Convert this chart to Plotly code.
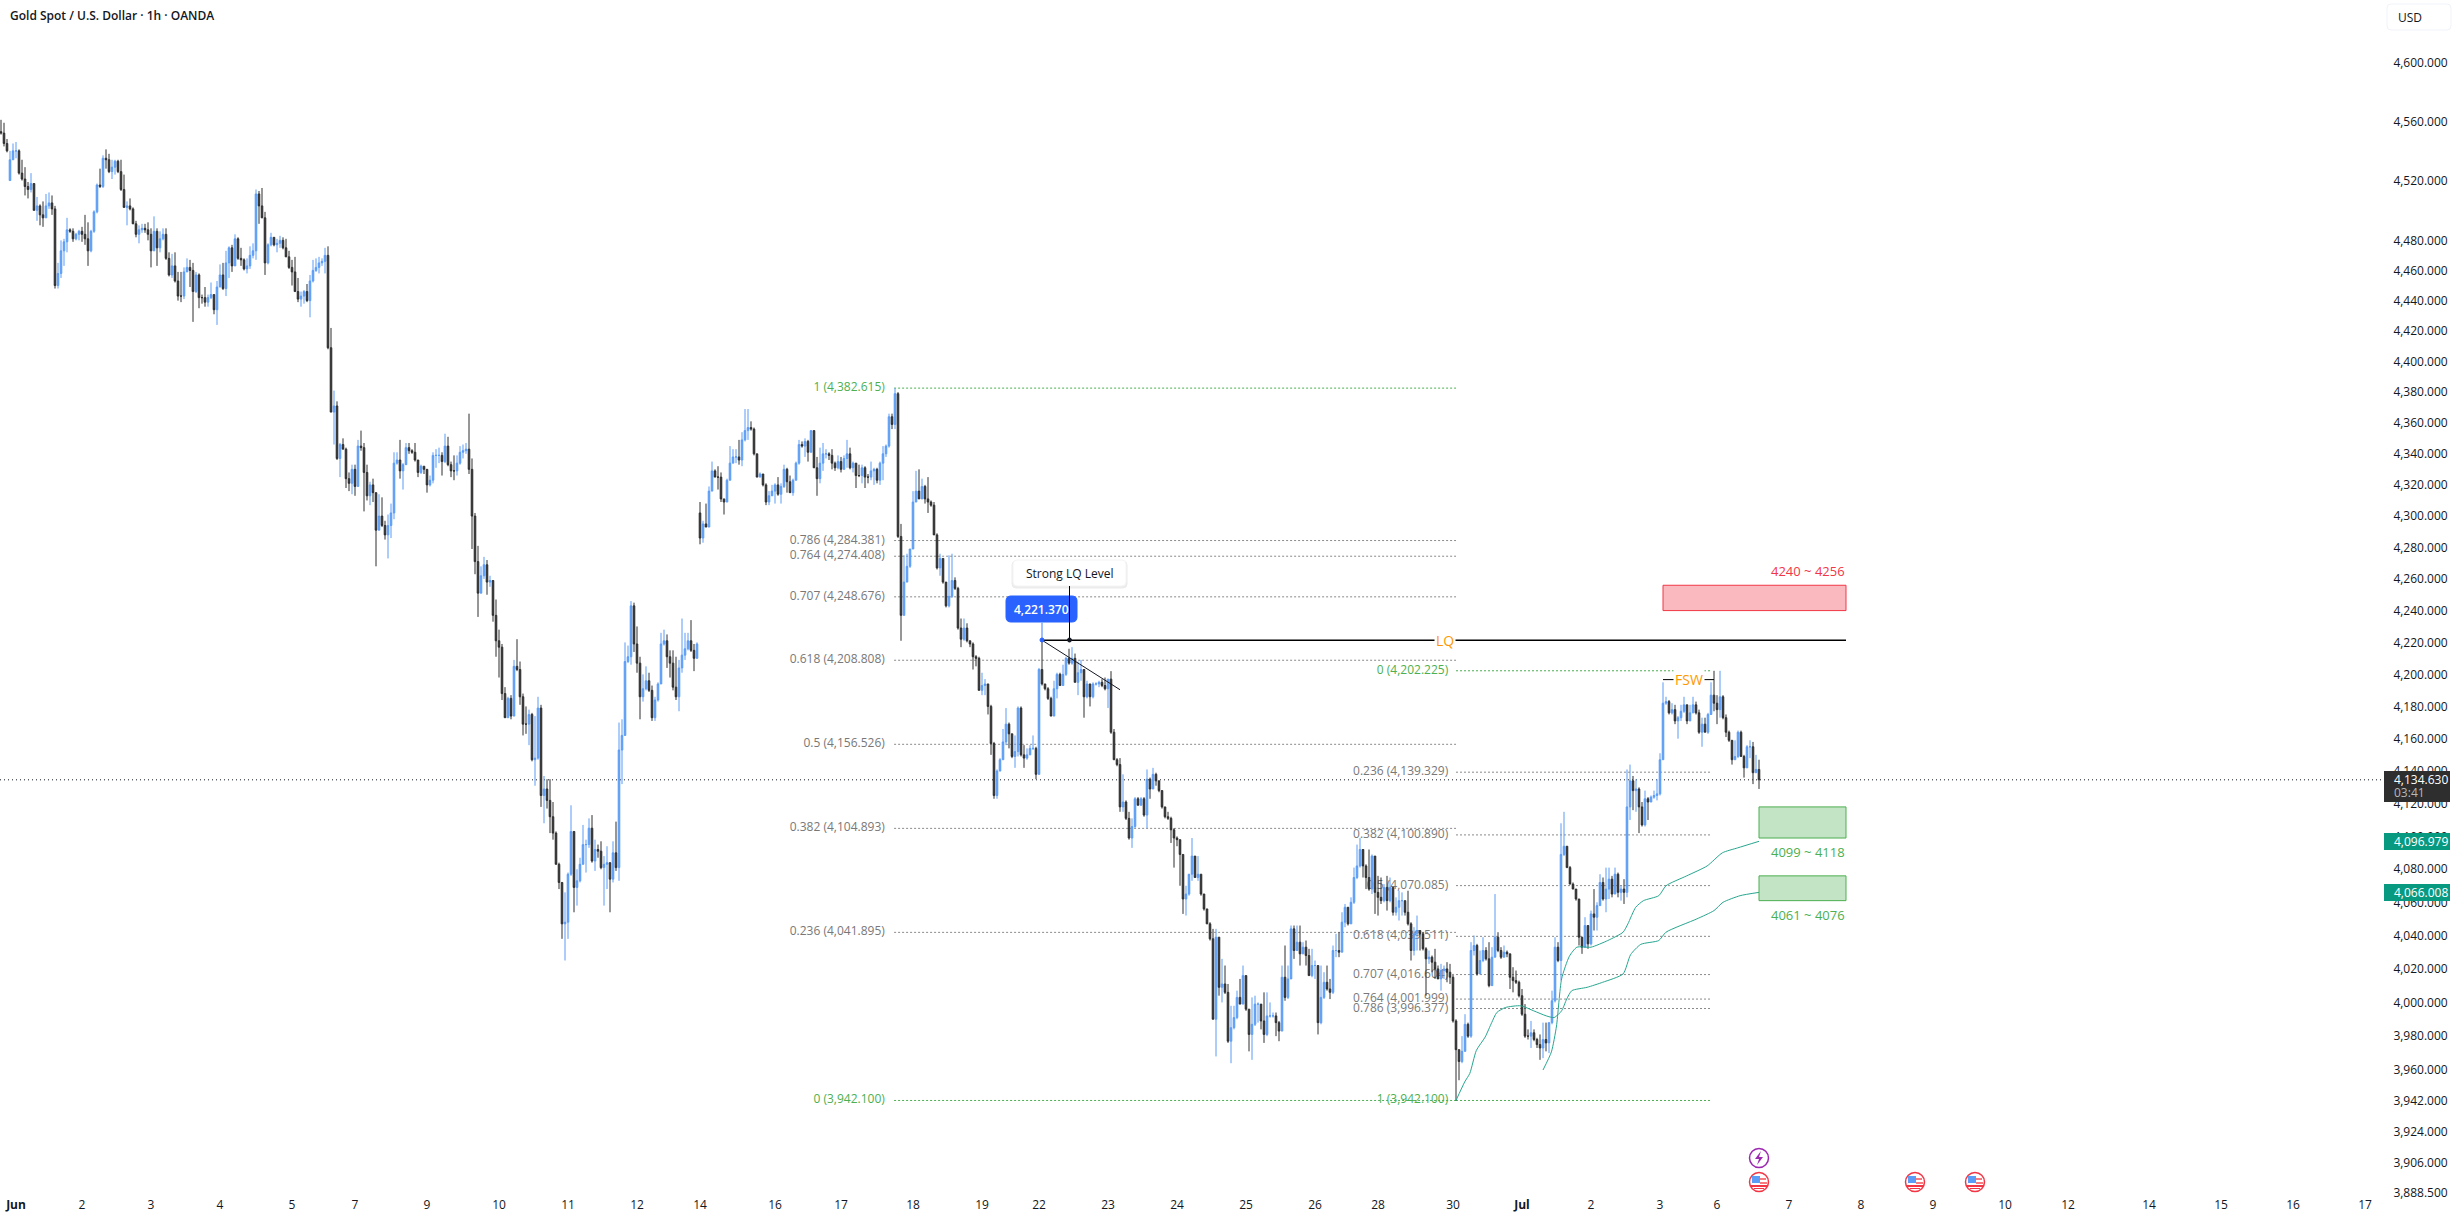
import math
import plotly.graph_objects as go

# Hourly XAU/USD session, bar by bar: close, high, low
closes = [
 4552,4545,4540,4534,4540,4540,4525,4521,4516,4514,4518,4500,4503,4497,4495,4503,4505,4501,4450,4458,
 4473,4479,4487,4486,4481,4484,4486,4484,4481,4473,4486,4499,4517,4516,4535,4534,4526,4529,4533,4526,
 4514,4502,4503,4501,4491,4484,4487,4488,4487,4484,4473,4486,4475,4481,4484,4468,4457,4463,4453,4443,
 4443,4459,4462,4460,4446,4457,4442,4442,4439,4442,4444,4434,4449,4457,4448,4465,4475,4463,4481,4468,
 4467,4461,4463,4470,4473,4511,4503,4495,4465,4477,4482,4477,4478,4480,4475,4469,4462,4459,4446,4441,
 4443,4446,4440,4453,4460,4462,4465,4466,4470,4409,4367,4371,4337,4346,4343,4324,4321,4330,4319,4345,
 4344,4328,4313,4320,4315,4291,4300,4294,4288,4294,4302,4334,4336,4329,4333,4344,4342,4341,4336,4328,
 4332,4330,4320,4323,4339,4339,4339,4335,4345,4333,4329,4329,4334,4341,4342,4343,4330,4300,4271,4251,
 4262,4269,4258,4259,4237,4221,4217,4188,4173,4185,4174,4205,4203,4186,4169,4169,4175,4147,4148,4179,
 4125,4129,4122,4112,4102,4083,4072,4047,4048,4077,4103,4069,4073,4083,4095,4095,4105,4085,4092,4091,
 4081,4083,4084,4074,4090,4081,4153,4162,4208,4211,4243,4219,4207,4186,4191,4196,4190,4173,4184,4194,
 4219,4221,4211,4207,4192,4186,4204,4212,4216,4221,4215,4210,4219,
 4286,4295,4293,4316,4329,4325,4325,4311,4309,4323,
 4334,4338,4338,4336,4349,4355,4357,4356,4340,4325,4327,4320,4309,4313,4316,4320,4314,4319,4330,4322,
 4315,4323,4334,4346,4345,4348,4341,4355,4331,4324,4334,4340,4340,4339,4334,4331,4335,4330,4337,4340,
 4331,4334,4326,4326,4331,4325,4325,4329,4330,4323,4334,4340,4345,4364,4359,4379,4287,4237,4258,4268,
 4279,4309,4316,4311,4319,4311,4309,4307,4288,4267,4273,4258,4243,4249,4259,4254,4229,4222,4229,4221,
 4219,4211,4210,4190,4193,4194,4180,4157,4125,4140,4147,4158,4169,4163,4149,4152,4179,4150,4148,4150,
 4154,4154,4138,4203,
 4194,4191,4185,4174,4191,4200,4193,4200,4210,4207,4210,4195,4201,4203,4186,4194,4186,4194,4194,4195,4193,4191,4197,4164,
 4147,4144,4118,4121,4111,4099,4106,4123,4119,4123,4113,4135,4129,4138,4134,4128,4118,4112,4111,4104,4099,4098,4089,4062,4065,4077,4088,4075,4077,4065,4056,4047,4038,
 3990,4039,4009,4011,4006,3977,3985,3991,4003,3999,4016,3996,3981,3987,3999,3999,3989,3981,3992,3992,3992,3988,3983,4015,4003,4014,4044,4031,4036,4029,4033,4028,4016,4022,4022,3988,4003,4012,4008,
 4006,4031,4031,4030,4048,4057,4047,4060,4075,4082,4092,4082,4075,4068,4088,4066,4063,4061,4069,4061,4069,4054,
 4057,4061,4061,4054,4047,4031,4041,4043,4041,4032,4026,4027,4024,4020,4014,4019,4020,4018,4015,3989,
 3972,3965,3971,3987,3980,4031,4034,4017,4025,4031,4026,4010,4027,4039,4031,4027,4030,4029,4015,4013,4012,4004,3993,3980,3980,3982,3978,3975,3973,3978,3976,3988,4001,4033,4025,4089,4094,4081,4071,4068,4062,4039,
 4033,4046,4035,4053,4051,4058,4072,4062,4068,4074,4065,4077,4066,4068,4066,4118,4134,4128,4129,4118,4107,4123,4121,4124,4125,4126,4147,4182,4183,4176,4178,4171,4173,4177,4181,4171,4176,4181,4176,4164,4169,4164,4175,4187,4182,4178,4186,4173,4164,4159,4147,4149,4164,4149,4142,4155,4155,4139,4141,4134.63,
]

highs = [
 4561,4559,4548,4540,4545,4546,4541,4534,4529,4519,4525,4518,4509,4504,4506,4511,4512,4510,4503,4465,
 4480,4481,4495,4488,4488,4485,4487,4489,4497,4492,4487,4500,4518,4528,4537,4541,4538,4534,4534,4534,
 4534,4524,4506,4508,4502,4493,4490,4491,4491,4492,4488,4496,4488,4486,4488,4488,4472,4471,4472,4459,
 4459,4462,4468,4467,4465,4459,4458,4444,4449,4444,4452,4444,4453,4464,4465,4473,4476,4477,4484,4482,
 4475,4468,4468,4476,4478,4514,4513,4515,4499,4478,4485,4482,4481,4483,4482,4481,4473,4467,4469,4455,
 4446,4447,4451,4457,4467,4468,4469,4468,4475,4476,4422,4381,4374,4347,4350,4344,4328,4333,4333,4349,
 4355,4347,4333,4322,4324,4315,4314,4312,4297,4301,4308,4341,4341,4349,4334,4347,4347,4343,4347,4336,
 4333,4331,4330,4326,4341,4343,4344,4341,4353,4351,4335,4339,4339,4345,4346,4347,4366,4337,4302,4281,
 4268,4274,4272,4262,4256,4247,4228,4219,4192,4186,4187,4209,4222,4208,4188,4180,4178,4176,4174,4186,
 4181,4137,4135,4135,4121,4103,4084,4070,4066,4078,4119,4103,4080,4087,4107,4098,4111,4113,4098,4095,
 4097,4088,4094,4084,4097,4109,4170,4172,4220,4218,4246,4245,4230,4211,4200,4205,4201,4193,4186,4195,
 4226,4228,4225,4215,4215,4211,4209,4235,4226,4226,4234,4219,4220,
 4309,4297,4308,4319,4335,4330,4332,4328,4311,4324,
 4345,4343,4343,4349,4354,4369,4369,4361,4357,4340,4328,4327,4321,4316,4320,4321,4325,4321,4333,4331,
 4326,4324,4335,4349,4348,4350,4349,4355,4355,4338,4344,4347,4343,4341,4343,4335,4339,4338,4339,4349,
 4344,4335,4333,4333,4333,4332,4327,4335,4331,4331,4335,4345,4346,4366,4366,4382.6,4380,4295,4275,4276,
 4279,4316,4329,4330,4324,4320,4325,4310,4309,4289,4276,4273,4258,4275,4276,4261,4255,4235,4235,4232,
 4221,4220,4212,4211,4201,4197,4188,4181,4158,4141,4148,4166,4179,4170,4163,4162,4180,4180,4156,4154,
 4156,4162,4155,4204,
 4221,4194,4192,4186,4196,4201,4201,4206,4211,4216,4217,4213,4208,4209,4203,4196,4194,4195,4195,4196,4197,4198,4197,4202,
 4166,4148,4148,4138,4122,4115,4111,4124,4124,4124,4124,4141,4136,4142,4139,4134,4128,4118,4115,4112,4105,4100,4098,4089,4070,4077,4099,4088,4088,4077,4065,4056,4048,
 4044,4044,4039,4026,4022,4011,3998,3998,4007,4014,4022,4016,3996,4003,4004,4000,3999,4006,4006,4000,3994,3994,3989,4022,4034,4022,4046,4046,4046,4046,4036,4037,4032,4032,4025,4022,4022,4018,4022,
 4014,4034,4041,4042,4054,4059,4057,4063,4081,4095,4099,4092,4083,4092,4089,4076,4076,4075,4071,4076,4075,4069,
 4063,4067,4066,4061,4067,4048,4045,4052,4043,4042,4033,4031,4028,4032,4022,4023,4022,4024,4023,4017,
 3990,3972,3980,3993,3988,4036,4040,4035,4031,4039,4033,4036,4033,4065,4042,4033,4034,4031,4029,4021,4019,4013,4008,3999,3984,3989,3984,3979,3981,3988,3988,3988,4007,4039,4036,4108,4115,4094,4082,4072,4068,4062,
 4039,4051,4046,4055,4068,4060,4077,4075,4081,4081,4076,4081,4078,4070,4074,4141,4144,4137,4135,4130,4121,4128,4124,4125,4128,4135,4151,4195,4186,4184,4182,4181,4174,4181,4186,4181,4181,4186,4183,4178,4173,4173,4176,4195,4202.2,4187,4202.2,4187,4175,4165,4159,4159,4165,4165,4150,4156,4159,4158,4150,4147,
]

lows = [
 4551,4543,4539,4520,4534,4535,4524,4520,4510,4508,4512,4500,4493,4490,4489,4495,4501,4497,4448,4448,
 4455,4463,4472,4485,4479,4480,4480,4479,4477,4463,4472,4485,4498,4515,4515,4528,4525,4521,4524,4525,
 4513,4502,4490,4500,4491,4482,4478,4485,4485,4480,4462,4473,4463,4472,4480,4467,4456,4455,4452,4440,
 4439,4441,4459,4449,4426,4445,4435,4438,4436,4436,4441,4431,4424,4449,4447,4443,4455,4459,4463,4467,
 4463,4460,4458,4461,4468,4467,4491,4495,4457,4464,4476,4476,4472,4475,4474,4469,4461,4450,4446,4439,
 4436,4438,4439,4429,4452,4459,4458,4463,4458,4408,4367,4346,4336,4325,4343,4318,4316,4314,4313,4319,
 4342,4303,4310,4307,4309,4268,4291,4293,4285,4273,4286,4298,4333,4324,4317,4333,4340,4340,4335,4325,
 4327,4327,4315,4319,4321,4331,4334,4326,4334,4332,4325,4323,4326,4333,4337,4340,4327,4279,4263,4236,
 4251,4260,4250,4255,4233,4211,4198,4184,4173,4173,4172,4175,4202,4181,4162,4163,4156,4146,4131,4147,
 4118,4108,4117,4102,4098,4083,4068,4038,4025,4038,4076,4054,4058,4072,4083,4078,4093,4084,4079,4087,
 4080,4058,4068,4054,4072,4079,4073,4132,4162,4207,4206,4214,4201,4172,4183,4190,4189,4171,4171,4183,
 4194,4218,4204,4198,4190,4184,4177,4201,4209,4215,4214,4202,4210,
 4282,4283,4293,4293,4316,4325,4317,4309,4301,4309,
 4323,4334,4334,4333,4332,4348,4349,4355,4339,4325,4325,4319,4307,4307,4313,4308,4313,4308,4318,4315,
 4315,4313,4323,4333,4344,4338,4335,4341,4331,4313,4321,4329,4337,4336,4330,4329,4330,4328,4330,4331,
 4330,4328,4318,4325,4321,4318,4321,4323,4320,4321,4320,4323,4338,4344,4356,4356,4286,4221,4237,4258,
 4267,4279,4309,4311,4311,4308,4302,4306,4288,4266,4262,4257,4242,4242,4248,4253,4228,4217,4221,4220,
 4217,4203,4205,4190,4187,4187,4175,4150,4123,4123,4140,4147,4156,4154,4148,4142,4149,4149,4142,4147,
 4150,4153,4135,4138,
 4193,4190,4184,4174,4174,4185,4193,4194,4199,4206,4206,4195,4187,4196,4173,4185,4180,4185,4193,4192,4192,4190,4179,4163,
 4147,4143,4115,4115,4110,4098,4093,4105,4119,4119,4112,4105,4123,4129,4131,4127,4117,4111,4110,4096,4081,4094,4070,4053,4052,4064,4073,4075,4073,4064,4055,4047,4037,
 3990,3968,4004,4000,4005,3976,3964,3984,3990,3999,3999,3995,3971,3966,3986,3988,3984,3976,3980,3991,3991,3980,3977,3983,4001,4002,4014,4026,4031,4022,4029,4022,4016,4015,4014,3981,3987,4002,4007,
 4002,4005,4027,4027,4030,4045,4046,4048,4059,4074,4081,4075,4068,4067,4065,4053,4052,4059,4060,4055,4060,4052,
 4052,4049,4052,4052,4046,4025,4028,4031,4031,4031,4004,4023,4018,4014,4014,4007,4014,4012,4011,3988,
 3942.1,3954,3964,3971,3979,3979,4028,4016,4017,4024,4025,4009,4010,4027,4030,4026,4027,4027,4008,4006,4011,4003,3992,3979,3978,3973,3977,3973,3966,3967,3971,3970,3987,4000,4024,4013,4088,4081,4071,4068,4061,4034,
 4029,4033,4032,4034,4043,4043,4058,4061,4054,4062,4063,4065,4063,4061,4059,4063,4110,4116,4115,4102,4106,4106,4110,4121,4123,4122,4125,4147,4181,4175,4175,4169,4160,4171,4176,4169,4171,4176,4175,4163,4155,4164,4163,4179,4177,4169,4173,4172,4161,4158,4144,4147,4148,4149,4136,4142,4148,4132,4139,4129,
]

# Bars that do not open on the previous close (session starts and weekend gaps)
gap_opens = {0: 4553, 3: 4520, 233: 4302}

price_ticks = [4600,4560,4520,4480,4460,4440,4420,4400,4380,4360,4340,4320,4300,4280,4260,4240,4220,4200,
               4180,4160,4140,4120,4100,4080,4060,4040,4020,4000,3980,3960,3942,3924,3906,3888.5]
date_ticks = [5,27,50,73,97,118,142,166,189,212,233,258,280,304,327,346,369,392,415,438,459,484,507,530,553,572,
              596,620,644,668,689,716,740,764,788]
date_labels = ["<b>Jun</b>","2","3","4","5","7","9","10","11","12","14","16","17","18","19","22","23","24","25","26","28","30",
               "<b>Jul</b>","2","3","6","7","8","9","10","12","14","15","16","17"]

# Fibonacci retracement of the 4,382 to 3,942 leg, and of the rebound from 3,942 to 4,202
fib_down_ratios = ["1","0.786","0.764","0.707","0.618","0.5","0.382","0.236","0"]
fib_down_prices = [4382.615,4284.381,4274.408,4248.676,4208.808,4156.526,4104.893,4041.895,3942.100]
fib_up_ratios = ["0","0.236","0.382","0.5","0.618","0.707","0.764","0.786","1"]
fib_up_prices = [4202.225,4139.329,4100.890,4070.085,4039.511,4016.604,4001.999,3996.377,3942.100]

# Anchored moving averages
ma_fast_x = [485,487.9,489.6,491.8,494.7,496.9,498.6,501.5,506.6,510.9,515.1,517.7,520.2,521.9,523.6,528.7,533.9,540.7,543.2,546.6,552.6,555,565.3,571,574,579.7,586]
ma_fast_y = [3942.1,3953,3958,3971.6,3979.4,3988,3994,3997,3998,3995,3992,3991,3995,4002,4007,4009,4012,4017,4028.5,4034.7,4037,4042,4050,4055,4060,4064,4066.008]
ma_slow_x = [514,516.8,518.5,520.2,522.8,525.3,530,535.6,540.7,542.3,544.9,547.5,552.6,555,561.9,568.7,573.8,578.9,586]
ma_slow_y = [3960,3970.7,3986,4014,4027.6,4033,4033,4037,4042,4047,4057,4061,4064,4070,4076,4082,4090,4093,4096.979]

last_price = 4134.63
lq_level = 4221.37
zones = [(4240,4256,554,615,"#F23645","rgba(242,54,69,0.35)","4240 ~ 4256"),
         (4099,4118,586,615,"#4CAF50","rgba(76,175,80,0.33)","4099 ~ 4118"),
         (4061,4076,586,615,"#4CAF50","rgba(76,175,80,0.33)","4061 ~ 4076")]

opens = [gap_opens.get(i, closes[i-1] if i else closes[0]) for i in range(len(closes))]
highs = [max(h, o, c) for h, o, c in zip(highs, opens, closes)]
lows = [min(l, o, c) for l, o, c in zip(lows, opens, closes)]
bars = list(range(len(closes)))

PW, PH = 2384, 1196
TEXT = "#131722"
FONT = "Open Sans"
fx = lambda px: px / PW
fy = lambda py: 1 - py / PH
x_range = [-1/3, (PW-1)/3]
y_range = [math.log10(3886.5), math.log10(4643)]

fig = go.Figure()

# Level captions sit on the base axes so the candles paint over them
fig.add_trace(go.Scatter(
    x=[294.6]*len(fib_down_prices), y=fib_down_prices, mode="text",
    text=[f"{r} ({p:,.3f})" for r, p in zip(fib_down_ratios, fib_down_prices)],
    textposition="middle left",
    textfont=dict(family=FONT, size=12, color=["#4CAF50" if r in ("0","1") else "#787878" for r in fib_down_ratios]),
    hoverinfo="skip", showlegend=False))
fig.add_trace(go.Scatter(
    x=[482.4]*len(fib_up_prices), y=fib_up_prices, mode="text",
    text=[f"{r} ({p:,.3f})" for r, p in zip(fib_up_ratios, fib_up_prices)],
    textposition="middle left",
    textfont=dict(family=FONT, size=12, color=["#4CAF50" if r in ("0","1") else "#787878" for r in fib_up_ratios]),
    hoverinfo="skip", showlegend=False))

fig.add_trace(go.Candlestick(
    x=bars, open=opens, high=highs, low=lows, close=closes, xaxis="x2", yaxis="y2",
    increasing=dict(line=dict(color="#5B9CF6", width=1), fillcolor="#5B9CF6"),
    decreasing=dict(line=dict(color="#2E2E2E", width=1), fillcolor="#2E2E2E"),
    whiskerwidth=0, hoverinfo="skip", showlegend=False))

for xs, ys in ((ma_fast_x, ma_fast_y), (ma_slow_x, ma_slow_y)):
    fig.add_trace(go.Scatter(x=xs, y=ys, xaxis="x2", yaxis="y2", mode="lines",
                             line=dict(color="#26A68F", width=1, shape="spline", smoothing=0.6),
                             hoverinfo="skip", showlegend=False))

shapes = []
annotations = []

def level_line(x0, x1, y, color):
    shapes.append(dict(type="line", layer="below", xref="x", yref="y", x0=x0, x1=x1, y0=y, y1=y,
                       line=dict(color=color, width=1, dash="2px,2px")))

for r, p in zip(fib_down_ratios, fib_down_prices):
    level_line(297.7, 485, p, "#4CAF50" if r in ("0","1") else "#8A8A8A")
for r, p in zip(fib_up_ratios, fib_up_prices):
    level_line(485, 570.3, p, "#4CAF50" if r in ("0","1") else "#8A8A8A")

# Last-price line
shapes.append(dict(type="line", layer="below", xref="paper", yref="y", x0=0, x1=1, y0=last_price, y1=last_price,
                   line=dict(color=TEXT, width=1, dash="1px,3px")))

# Liquidity line, its caption and the falling trend line
shapes.append(dict(type="line", xref="x", yref="y", x0=347, x1=615, y0=lq_level, y1=lq_level,
                   line=dict(color="#000000", width=1.5)))
shapes.append(dict(type="line", xref="x", yref="y", x0=347, x1=373, y0=lq_level, y1=4190.4,
                   line=dict(color="#131722", width=1)))
annotations.append(dict(x=481.3, y=math.log10(lq_level), xref="x", yref="y", text="LQ", showarrow=False, bgcolor="#FFFFFF",
                        font=dict(family=FONT, size=14, color="#FF9800"), borderpad=1))

# False swing marker
shapes.append(dict(type="line", xref="x", yref="y", x0=554, x1=571, y0=4196.7, y1=4196.7,
                   line=dict(color="#000000", width=1)))
annotations.append(dict(x=562.6, y=math.log10(4196.7), xref="x", yref="y", text="FSW", showarrow=False, bgcolor="#FFFFFF",
                        font=dict(family=FONT, size=14, color="#FF9800"), borderpad=1))

# Supply and demand zones
for lo, hi, x0, x1, edge, fill, label_text in zones:
    shapes.append(dict(type="rect", xref="x", yref="y", x0=x0, x1=x1, y0=lo, y1=hi,
                       line=dict(color=edge, width=1), fillcolor=fill))
    anchor = hi if edge == "#F23645" else lo
    annotations.append(dict(x=x1, y=math.log10(anchor), xref="x", yref="y", text=label_text, showarrow=False,
                            xanchor="right", yanchor="bottom" if edge == "#F23645" else "top", yshift=3 if edge == "#F23645" else -3,
                            xshift=1, font=dict(family=FONT, size=13, color=edge)))

def round_rect(x0, y0, x1, y1, r, fill, edge=None):
    path = (f"M {fx(x0+r)} {fy(y0)} L {fx(x1-r)} {fy(y0)} Q {fx(x1)} {fy(y0)} {fx(x1)} {fy(y0+r)} "
            f"L {fx(x1)} {fy(y1-r)} Q {fx(x1)} {fy(y1)} {fx(x1-r)} {fy(y1)} "
            f"L {fx(x0+r)} {fy(y1)} Q {fx(x0)} {fy(y1)} {fx(x0)} {fy(y1-r)} "
            f"L {fx(x0)} {fy(y0+r)} Q {fx(x0)} {fy(y0)} {fx(x0+r)} {fy(y0)} Z")
    return dict(type="path", xref="paper", yref="paper", path=path, fillcolor=fill,
                line=dict(color=edge or fill, width=1))

def label(px, py, text, color, size=12, weight=None, anchor="center"):
    font = dict(family=FONT, size=size, color=color)
    if weight:
        font["weight"] = weight
    annotations.append(dict(x=fx(px), y=fy(py), xref="paper", yref="paper", text=text, showarrow=False,
                            xanchor=anchor, yanchor="middle", font=font))

def dot(px, py, r, color, edge=None, width=1):
    shapes.append(dict(type="circle", xref="paper", yref="paper", x0=fx(px-r), x1=fx(px+r), y0=fy(py+r), y1=fy(py-r),
                       fillcolor=color, line=dict(color=edge or color, width=width)))

def seg(x0, y0, x1, y1, color, width=1):
    shapes.append(dict(type="line", xref="paper", yref="paper", x0=fx(x0), x1=fx(x1), y0=fy(y0), y1=fy(y1),
                       line=dict(color=color, width=width)))

# Anchor price badge
shapes.append(round_rect(1006, 596, 1077, 622, 5, "#2962FF"))
seg(1042, 622, 1042, 640, "#7FA8F8", 1.5)
dot(1042, 640, 2, "#2962FF")
label(1041.5, 609, "4,221.370", "#FFFFFF", 12, 600)

# Callout box with a soft shadow
shapes.append(round_rect(1012, 561, 1127, 588, 4, "#ECECEC", "#ECECEC"))
shapes.append(round_rect(1013, 560, 1126, 586, 4, "#FFFFFF", "#F4F4F4"))
seg(1069.5, 586, 1069.5, 640, "#000000", 1)
dot(1069.5, 640, 2, "#131722")
label(1069.5, 573, "Strong LQ Level", "#131722", 12)

# Header and currency selector
label(8, 16, "Gold Spot / U.S. Dollar · 1h · OANDA", TEXT, 12, 600, "left")
shapes.append(round_rect(2387, 4, 2451, 30, 4, "#FFFFFF", "#F0F3FA"))
label(2396, 17, "USD", TEXT, 12, None, "left")

# Right-hand price tags
shapes.append(dict(type="rect", xref="paper", yref="paper", x0=fx(2384), x1=fx(2450), y0=fy(802), y1=fy(771),
                   fillcolor="#2E2E2E", line=dict(width=0)))
label(2392, 779, "4,134.630", "#FFFFFF", 12, None, "left")
label(2392, 793, "03:41", "#B8B8B8", 12, None, "left")
for top, bottom, text in ((833, 850, "4,096.979"), (884, 901, "4,066.008")):
    shapes.append(dict(type="rect", xref="paper", yref="paper", x0=fx(2384), x1=fx(2450), y0=fy(bottom), y1=fy(top),
                       fillcolor="#089981", line=dict(width=0)))
    label(2392, (top + bottom) / 2, text, "#FFFFFF", 12, None, "left")

# Economic-calendar icons under the price action
dot(1759, 1158, 9.5, "#FFFFFF", "#9C27B0", 1.5)
shapes.append(dict(type="path", xref="paper", yref="paper",
                   path=f"M {fx(1761)} {fy(1151)} L {fx(1755)} {fy(1159)} L {fx(1759)} {fy(1159)} L {fx(1757)} {fy(1165)} "
                        f"L {fx(1763)} {fy(1157)} L {fx(1759)} {fy(1157)} Z",
                   fillcolor="#9C27B0", line=dict(width=0)))
for cx in (1759, 1915, 1975):
    dot(cx, 1182, 9.5, "#FFFFFF", "#F23645", 1.5)
    for x0, y0, x1, y1, col in ((cx-7, 1176, cx+1, 1183, "#5B9CF6"), (cx+1, 1178, cx+7, 1180, "#F77C80"),
                                (cx+1, 1182, cx+8, 1184, "#F77C80"), (cx-8, 1185, cx+8, 1187, "#F23645"),
                                (cx-5, 1188, cx+5, 1189, "#F23645")):
        shapes.append(dict(type="rect", xref="paper", yref="paper", x0=fx(x0), x1=fx(x1), y0=fy(y1), y1=fy(y0),
                           fillcolor=col, line=dict(width=0)))

fig.update_layout(
    width=2455, height=1224, autosize=False, paper_bgcolor="#FFFFFF", plot_bgcolor="#FFFFFF",
    margin=dict(l=0, r=71, t=0, b=28, pad=0), boxgap=0.25, showlegend=False, dragmode=False,
    shapes=shapes, annotations=annotations,
    font=dict(family=FONT, size=12, color=TEXT),
    xaxis=dict(range=x_range, tickmode="array", tickvals=date_ticks, ticktext=date_labels, showgrid=False,
               zeroline=False, showline=False, ticks="", tickangle=0, rangeslider=dict(visible=False),
               tickfont=dict(family=FONT, size=12, color=TEXT)),
    yaxis=dict(type="log", range=y_range, side="right", tickmode="array", tickvals=price_ticks,
               ticktext=[f"{v:,.3f}" for v in price_ticks], showgrid=False, zeroline=False, showline=False,
               ticks="outside", ticklen=6, tickcolor="rgba(0,0,0,0)",
               tickfont=dict(family=FONT, size=12, color=TEXT)),
    xaxis2=dict(range=x_range, overlaying="x", visible=False, rangeslider=dict(visible=False), showgrid=False, zeroline=False),
    yaxis2=dict(type="log", range=y_range, overlaying="y", side="right", visible=False, showgrid=False, zeroline=False),
)

fig.write_html("out.html")
